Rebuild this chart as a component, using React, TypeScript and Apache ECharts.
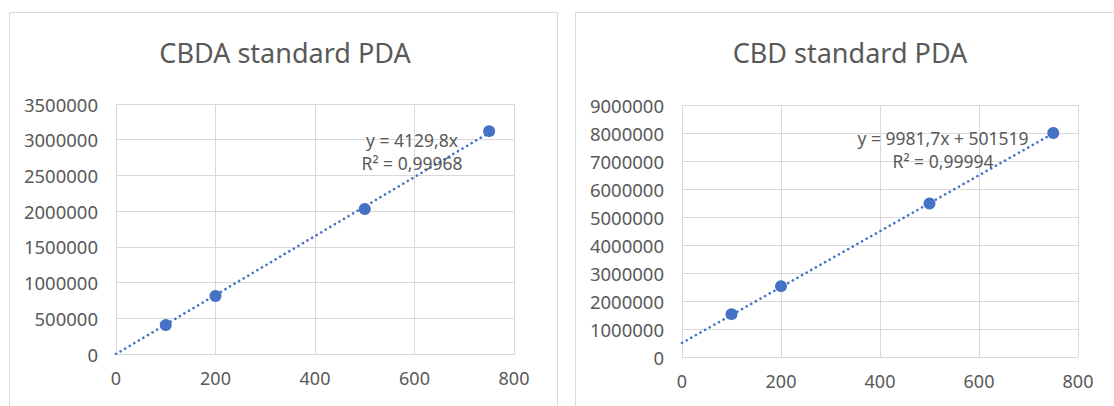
import React, { useEffect, useRef } from "react";
import * as echarts from "echarts";

const cbdaPoints: [number, number][] = [
  [100, 405000],
  [200, 812000],
  [500, 2030000],
  [750, 3120000],
];
const cbdaTrend: [number, number][] = [
  [0, 0],
  [750, 3097350],
];
const cbdPoints: [number, number][] = [
  [100, 1530000],
  [200, 2530000],
  [500, 5480000],
  [750, 8000000],
];
const cbdTrend: [number, number][] = [
  [0, 501519],
  [750, 7987794],
];
const titles = ["CBDA standard PDA", "CBD standard PDA"];
const eqLeft = ["y = 4129,8x", "R² = 0,99968"];
const eqRight = ["y = 9981,7x + 501519", "R² = 0,99994"];

const FONT = "'Noto Sans', sans-serif";
const TXT = "#595959";
const GRID = "#d9d9d9";
const BLUE = "#4472C4";

export default function App() {
  const ref = useRef<HTMLDivElement>(null);
  useEffect(() => {
    document.body.style.margin = "0";
    const chart = echarts.init(ref.current!, null, { renderer: "svg" });
    const xAxis = (gi: number) => ({
      type: "value",
      gridIndex: gi,
      min: 0,
      max: 800,
      interval: 200,
      axisLine: { show: true, lineStyle: { color: GRID, width: 1 } },
      axisTick: { show: false },
      axisLabel: { color: TXT, fontSize: 18, fontFamily: FONT, margin: 15 },
      splitLine: { show: true, lineStyle: { color: GRID, width: 1 } },
    });
    const yAxis = (gi: number, max: number, interval: number) => ({
      type: "value",
      gridIndex: gi,
      min: 0,
      max,
      interval,
      axisLine: { show: false },
      axisTick: { show: false },
      axisLabel: {
        color: TXT,
        fontSize: 18.5,
        fontFamily: FONT,
        margin: 18,
        formatter: (v: number) => String(v),
      },
      splitLine: { show: true, lineStyle: { color: GRID, width: 1 } },
    });
    const trendStyle = { color: BLUE, width: 2.6, type: [0.1, 5.2] as any, cap: "round" };
    const eqStyle = { fill: TXT, fontSize: 17.5, fontFamily: FONT, align: "center", verticalAlign: "middle" };
    chart.setOption({
      animation: false,
      backgroundColor: "#ffffff",
      title: [
        {
          text: titles[0],
          left: 280,
          top: 34,
          textAlign: "center",
          textStyle: { color: TXT, fontSize: 27, fontWeight: "normal", fontFamily: FONT },
        },
        {
          text: titles[1],
          left: 845,
          top: 34,
          textAlign: "center",
          textStyle: { color: TXT, fontSize: 27, fontWeight: "normal", fontFamily: FONT },
        },
      ],
      grid: [
        { left: 116, top: 104, width: 398, height: 250 },
        { left: 682, top: 105, width: 396, height: 252 },
      ],
      xAxis: [xAxis(0), xAxis(1)],
      yAxis: [yAxis(0, 3500000, 500000), yAxis(1, 9000000, 1000000)],
      graphic: [
        {
          type: "rect",
          shape: { x: 9.5, y: 12.5, width: 548, height: 420 },
          style: { fill: "none", stroke: GRID, lineWidth: 1 },
          silent: true,
        },
        {
          type: "rect",
          shape: { x: 575.5, y: 12.5, width: 560, height: 420 },
          style: { fill: "none", stroke: GRID, lineWidth: 1 },
          silent: true,
        },
        { type: "text", x: 412, y: 140, style: { ...eqStyle, text: eqLeft[0] }, z: 10 },
        { type: "text", x: 412, y: 163, style: { ...eqStyle, text: eqLeft[1] }, z: 10 },
        { type: "text", x: 943, y: 138, style: { ...eqStyle, text: eqRight[0] }, z: 10 },
        { type: "text", x: 943, y: 161, style: { ...eqStyle, text: eqRight[1] }, z: 10 },
      ],
      series: [
        {
          type: "line",
          xAxisIndex: 0,
          yAxisIndex: 0,
          data: cbdaTrend,
          showSymbol: false,
          lineStyle: trendStyle,
          z: 3,
        },
        {
          type: "scatter",
          xAxisIndex: 0,
          yAxisIndex: 0,
          data: cbdaPoints,
          symbolSize: 12,
          itemStyle: { color: BLUE, opacity: 1 },
          z: 4,
        },
        {
          type: "line",
          xAxisIndex: 1,
          yAxisIndex: 1,
          data: cbdTrend,
          showSymbol: false,
          lineStyle: trendStyle,
          z: 3,
        },
        {
          type: "scatter",
          xAxisIndex: 1,
          yAxisIndex: 1,
          data: cbdPoints,
          symbolSize: 12,
          itemStyle: { color: BLUE, opacity: 1 },
          z: 4,
        },
      ],
    });
    return () => chart.dispose();
  }, []);
  return <div ref={ref} style={{ width: 1114, height: 406 }} />;
}
